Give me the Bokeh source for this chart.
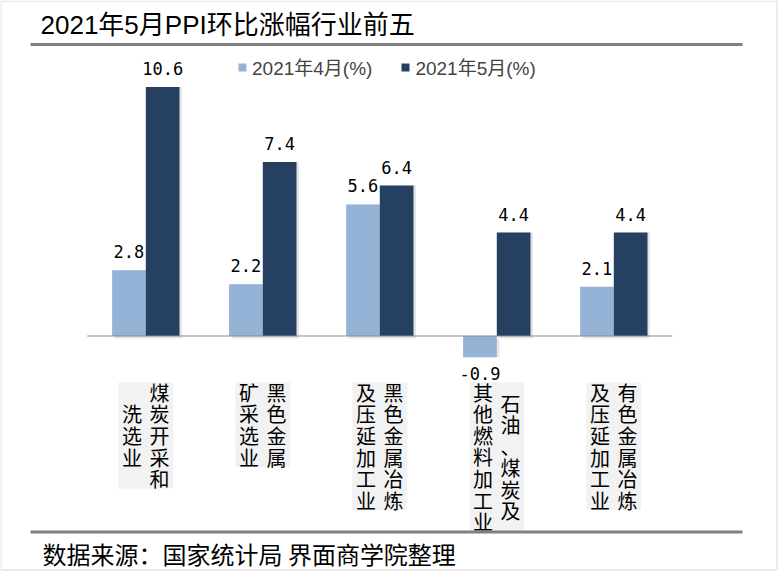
from bokeh.plotting import figure
from bokeh.models import Range1d, ColumnDataSource, Legend, LegendItem
from bokeh.core.properties import value
from bokeh.transform import dodge
from bokeh.embed import file_html
from bokeh.resources import INLINE

# ---------------- data ----------------
TITLE = "2021年5月PPI环比涨幅行业前五"
SOURCE_NOTE = "数据来源：国家统计局 界面商学院整理"
SERIES = ["2021年4月(%)", "2021年5月(%)"]
CATEGORIES = ["煤炭开采和洗选业", "黑色金属矿采选业", "黑色金属冶炼及压延加工业",
              "石油、煤炭及其他燃料加工业", "有色金属冶炼及压延加工业"]
CATEGORY_COLUMNS = [["煤炭开采和", "洗选业"],
                    ["黑色金属", "矿采选业"],
                    ["黑色金属冶炼", "及压延加工业"],
                    ["石油、煤炭及", "其他燃料加工业"],
                    ["有色金属冶炼", "及压延加工业"]]
APR_2021 = [2.8, 2.2, 5.6, -0.9, 2.1]
MAY_2021 = [10.6, 7.4, 6.4, 4.4, 4.4]

# ---------------- layout constants (pixels in page) ----------------
W, H, M = 778, 571, 0
GX0, GDX = 145.3, 117.0      # first group centre, group pitch
ZY, PPU = 335.5, 23.5        # zero line y, pixels per unit


def fx(px):
    return (px - GX0) / GDX


def fy(py):
    return (ZY - py) / PPU


CJK = "Noto Sans CJK SC"
MIXED = "Liberation Sans, Noto Sans CJK SC"

p = figure(width=W, height=H, output_backend="svg", toolbar_location=None, title=None,
           x_range=Range1d(fx(M), fx(M + W)), y_range=Range1d(fy(M + H), fy(M)),
           x_axis_location=None, y_axis_location=None, min_border=0,
           outline_line_color=None, background_fill_color="white",
           border_fill_color="white")
p.grid.visible = False

BAR_W = 33.7 / GDX
n = len(CATEGORIES)


def lab_y(vals):
    return [v + 18.5 / PPU if v >= 0 else v - 16.0 / PPU for v in vals]


src = ColumnDataSource(dict(
    x=list(range(n)), apr=APR_2021, may=MAY_2021,
    apr_t=[f"{v:.1f}" for v in APR_2021], may_t=[f"{v:.1f}" for v in MAY_2021],
    apr_y=lab_y(APR_2021), may_y=lab_y(MAY_2021),
))

# faint drop shadow behind the bars
SH_X, SH_Y = 2.5 / GDX, 2.5 / PPU
for off, col in ((-BAR_W / 2, "apr"), (BAR_W / 2, "may")):
    p.vbar(x=dodge("x", off + SH_X, range=p.x_range), top=col, bottom=-SH_Y,
           width=BAR_W, source=src, fill_color="#000000", fill_alpha=0.10,
           line_color=None)

r_apr = p.vbar(x=dodge("x", -BAR_W / 2, range=p.x_range), top="apr", bottom=0,
               width=BAR_W, source=src, fill_color="#95B3D7", line_color=None)
r_may = p.vbar(x=dodge("x", BAR_W / 2, range=p.x_range), top="may", bottom=0,
               width=BAR_W, source=src, fill_color="#254061", line_color=None)

# zero line
p.segment(x0=[-0.5], x1=[n - 0.5], y0=[0], y1=[0], line_color="#898989", line_width=1)

# value labels
for col_x, col_y, col_t in ((-BAR_W / 2, "apr_y", "apr_t"), (BAR_W / 2, "may_y", "may_t")):
    p.text(x=dodge("x", col_x, range=p.x_range), y=col_y, text=col_t, source=src,
           text_align="center", text_baseline="middle",
           text_font=value("DejaVu Sans Mono"), text_font_size="17px", text_color="#000000")

# category labels (vertical, columns right-to-left, on grey boxes)
ROW, BOX_TOP, BOX_HW, COL_DX = 21.5, 382.0, 27.5 / GDX, 13.8 / GDX
bl, br, bt, bb, tx, ty, tt = [], [], [], [], [], [], []
for i, cols in enumerate(CATEGORY_COLUMNS):
    rows = max(len(c) for c in cols)
    h = (rows - 1) * ROW + 20
    cy = BOX_TOP + h / 2
    bl.append(i - BOX_HW); br.append(i + BOX_HW)
    bt.append(fy(BOX_TOP)); bb.append(fy(BOX_TOP + h))
    for j, col in enumerate(cols):
        tx.append(i + (COL_DX if j == 0 else -COL_DX))
        ty.append(fy(cy))
        tt.append("\n".join(col))
p.quad(left=bl, right=br, top=bt, bottom=bb, fill_color="#F2F2F2", line_color=None)
p.text(x=tx, y=ty, text=tt, text_align="center", text_baseline="middle",
       text_line_height=0.742, text_font=value(CJK), text_font_size="20px",
       text_color="#000000")

# title, rules, source
p.text(x=[fx(40)], y=[fy(24)], text=[TITLE], text_align="left", text_baseline="middle",
       text_font=value(MIXED), text_font_size="26px", text_color="#000000")
p.segment(x0=[fx(30), fx(30)], x1=[fx(742), fx(742)], y0=[fy(44), fy(531.5)],
          y1=[fy(44), fy(531.5)], line_color="#808080", line_width=3)
p.text(x=[fx(42)], y=[fy(553)], text=[SOURCE_NOTE], text_align="left",
       text_baseline="middle", text_font=value(CJK), text_font_size="24px",
       text_color="#000000")

# outer thin frame of the picture
p.quad(left=[fx(0.5)], right=[fx(776.5)], top=[fy(0.5)], bottom=[fy(569.5)],
       fill_color=None, line_color="#D9D9D9", line_width=1)

legend = Legend(items=[LegendItem(label=SERIES[0], renderers=[r_apr]),
                       LegendItem(label=SERIES[1], renderers=[r_may])],
                orientation="horizontal", location=(237 - M, H - (80 - M)),
                glyph_width=10, glyph_height=10, label_standoff=5, spacing=28,
                padding=0, margin=0, border_line_color=None, background_fill_alpha=0,
                label_text_font_size="19px", label_text_font=MIXED, label_height=10)
p.add_layout(legend)

open("out.html", "w").write(file_html(p, INLINE))
